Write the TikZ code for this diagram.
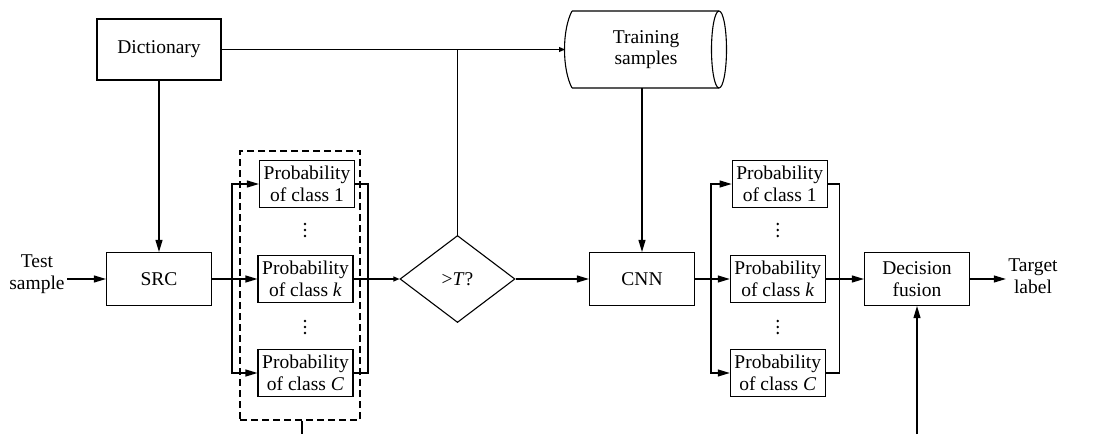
\documentclass[tikz,border=0pt]{standalone}
\usepackage{fontspec}
\setmainfont{Liberation Serif}
\usetikzlibrary{arrows.meta,shapes.geometric}
\begin{document}
\begin{tikzpicture}[x=1pt,y=-1pt,
  line width=1.1pt, line join=miter,
  every node/.style={font=\fontsize{19.5}{21.5}\selectfont, inner sep=2pt},
  box/.style={draw, minimum width=105pt, minimum height=53pt, align=center},
  pbox/.style={draw, minimum width=95pt, minimum height=47.5pt, align=center, inner sep=0pt},
  arr/.style={-{Triangle[length=12pt,width=7pt]}},
  sarr/.style={-{Triangle[length=6pt,width=5pt]}},
  lbl/.style={align=center},
  dot/.style={circle, fill, inner sep=0pt, minimum size=2.6pt}
]
\useasboundingbox (0,0) rectangle (1101,434);
% nodes
\node[draw, minimum width=124pt, minimum height=61pt] (dict) at (159,49.5) {Dictionary};
\node[align=center, inner sep=0pt] (train) at (646,49.5) {Training\\samples};
\draw (572,11) -- (719,11) (572,88) -- (719,88)
      (572,11) .. controls (562,30) and (562,69) .. (572,88);
\draw (719,49.5) ellipse [x radius=7.5, y radius=38.5];
\coordinate (trainW) at (565,49.5);
\coordinate (trainS) at (642,88);
\node[lbl] (test) at (37,274) {Test\\sample};
\node[box] (src) at (159,279) {SRC};
\node[pbox] (p1) at (307,184) {Probability\\of class 1};
\node[pbox] (pk) at (305.5,279) {Probability\\of class \textit{k}};
\node[pbox] (pC) at (305.5,373) {Probability\\of class \textit{C}};
\foreach \yy in {224,230,236,321,327,333}{
  \node[dot] at (305,\yy) {};
  \node[dot] at (777.7,\yy) {};
}
\node[draw, dash pattern=on 7pt off 4pt, minimum width=120pt, minimum height=269pt, inner sep=0pt] (grp) at (300,285.5) {};
\node[draw, shape=diamond, minimum width=115pt, minimum height=87pt, inner sep=0pt] (dec) at (457.5,279) {>\textit{T}?};
\node[box] (cnn) at (642,279) {CNN};
\node[pbox] (q1) at (779.7,184) {Probability\\of class 1};
\node[pbox] (qk) at (777.8,279) {Probability\\of class \textit{k}};
\node[pbox] (qC) at (777.8,373) {Probability\\of class \textit{C}};
\node[box] (fus) at (917,279) {Decision\\fusion};
\node[lbl] (tgt) at (1033,276) {Target\\label};
% coordinates
\coordinate (busL) at (232,279);
\coordinate (busR) at (368,279);
\coordinate (busL2) at (711,279);
\coordinate (busR2) at (839.3,279);
\coordinate (grpEnd) at (302,434);
\coordinate (fusIn) at (917,434);
% connectors
\draw[sarr] (dict.east) -- (trainW);
\draw (dec.north) -- (dec.north |- dict.east);
\draw[arr] (dict.south) -- (src.north);
\draw[arr] (src.west -| test.east) -- (src.west);
\draw (src.east) -- (busL);
\draw[arr] (busL) |- (p1.west);
\draw[arr] (busL) |- (pC.west);
\draw[arr] (busL) -- (pk.west);
\draw (p1.east) -| (busR);
\draw (pC.east) -| (busR);
\draw[sarr] (pk.east) -- (dec.west);
\draw (grp.south -| grpEnd) -- (grpEnd);
\draw[arr] (dec.east) -- (cnn.west);
\draw[arr] (trainS) -- (cnn.north);
\draw (cnn.east) -- (busL2);
\draw[arr] (busL2) |- (q1.west);
\draw[arr] (busL2) |- (qC.west);
\draw[arr] (busL2) -- (qk.west);
\draw (q1.east) -| (busR2);
\draw (qC.east) -| (busR2);
\draw[arr] (qk.east) -- (fus.west);
\draw[arr] (fusIn) -- (fus.south);
\draw[arr] (fus.east) -- (fus.east -| tgt.west);
\end{tikzpicture}
\end{document}
